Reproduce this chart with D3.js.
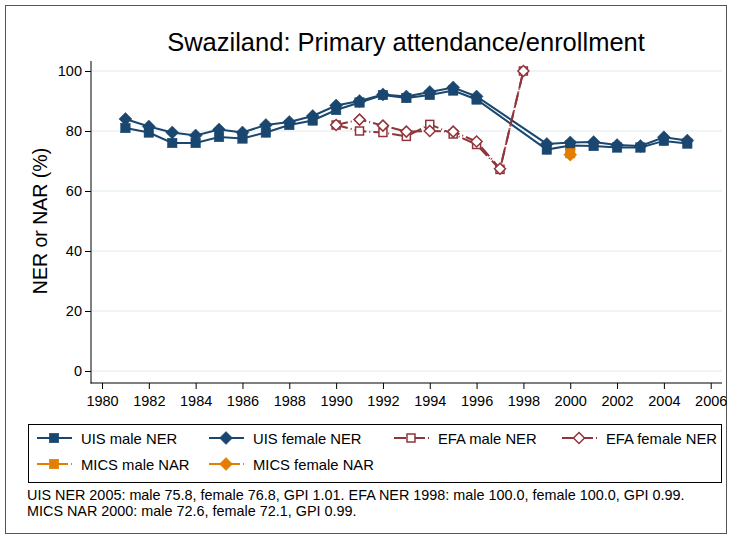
<!DOCTYPE html>
<html>
<head>
<meta charset="utf-8">
<script src="https://cdn.jsdelivr.net/npm/d3@7"></script>
<style>
  body { margin: 0; background: #fff; }
  text { font-family: "Liberation Sans", Arial, sans-serif; fill: #000; }
</style>
</head>
<body>
<script>
// data
const uisYears = [1981,1982,1983,1984,1985,1986,1987,1988,1989,1990,1991,1992,1993,1994,1995,1996,1999,2000,2001,2002,2003,2004,2005];
const uisMale = [81,79.5,76,76,78,77.5,79.5,82,83.5,87,89.5,92,91,92,93.5,90.5,73.8,75.2,75,74.5,74.5,76.7,75.8];
const uisFemale = [84,81.5,79.5,78.5,80.5,79.5,82,83,85,88.5,90,92.2,91.5,93,94.5,91.5,75.7,76.2,76.3,75.3,75,77.9,76.8];
const efaYears = [1990,1991,1992,1993,1994,1995,1996,1997,1998];
const efaMale = [82,80,79.5,78.2,82.2,79,75.5,67.2,100];
const efaFemale = [82,83.8,81.8,79.8,80,79.8,76.5,67.4,100];
const micsYears = [2000];
const micsMale = [72.6];
const micsFemale = [72.1];
const xTicks = d3.range(1980, 2007, 2);
const yTicks = [0,20,40,60,80,100];

const navy = "#1a476f", maroon = "#90353b", orange = "#e37e00";

const W = 731, H = 538;
const svg = d3.select("body").append("svg").attr("width", W).attr("height", H);

svg.append("rect").attr("x",5.5).attr("y",5.5).attr("width",721).attr("height",528)
    .attr("fill","none").attr("stroke","#555").attr("stroke-width",1);

const x = d3.scaleLinear().domain([1980, 2006]).range([102, 710.7]);
const y = d3.scaleLinear().domain([0, 100]).range([371, 71]);

// gridlines
svg.append("g").selectAll("line").data(yTicks).enter().append("line")
    .attr("x1", 92).attr("x2", 722)
    .attr("y1", d => y(d)).attr("y2", d => y(d))
    .attr("stroke", "#eaf2f3").attr("stroke-width", 1.5);

// axes
const yAxis = svg.append("g").attr("transform","translate(91,0)")
    .call(d3.axisLeft(y).tickValues(yTicks).tickSize(6).tickPadding(3).tickSizeOuter(0));
const xAxis = svg.append("g").attr("transform","translate(0,383)")
    .call(d3.axisBottom(x).tickValues(xTicks).tickFormat(d3.format("d")).tickSize(6).tickPadding(7).tickSizeOuter(0));
[yAxis, xAxis].forEach(g => {
    g.select(".domain").remove();
    g.selectAll("text").style("font-size","14.5px").attr("font-family","Liberation Sans, Arial, sans-serif");
    g.selectAll("line").attr("stroke","#000");
});
svg.append("line").attr("x1",91).attr("x2",91).attr("y1",61).attr("y2",383.5).attr("stroke","#000");
svg.append("line").attr("x1",90.5).attr("x2",722).attr("y1",383).attr("y2",383).attr("stroke","#000");

// title and axis label
svg.append("text").attr("x", 406).attr("y", 51).attr("text-anchor","middle")
    .style("font-size","25.5px").text("Swaziland: Primary attendance/enrollment");
svg.append("text").attr("transform","translate(47,221) rotate(-90)").attr("text-anchor","middle")
    .style("font-size","19.5px").text("NER or NAR (%)");

// markers
function marker(g, shape, cx, cy, color, hollow) {
    if (shape === "square") {
        const s = hollow ? 8 : 9.5;
        g.append("rect").attr("x", cx - s/2).attr("y", cy - s/2).attr("width", s).attr("height", s)
            .attr("fill", hollow ? "#fff" : color).attr("stroke", color).attr("stroke-width", hollow ? 1.5 : 0.5);
    } else {
        const r = hollow ? 5.5 : 6.5;
        g.append("path").attr("d", `M${cx},${cy-r}L${cx+r},${cy}L${cx},${cy+r}L${cx-r},${cy}Z`)
            .attr("fill", hollow ? "#fff" : color).attr("stroke", color).attr("stroke-width", hollow ? 1.5 : 0.5);
    }
}

const series = [
    {name:"UIS male NER", years:uisYears, vals:uisMale, color:navy, shape:"square", hollow:false, dash:null},
    {name:"UIS female NER", years:uisYears, vals:uisFemale, color:navy, shape:"diamond", hollow:false, dash:null},
    {name:"EFA male NER", years:efaYears, vals:efaMale, color:maroon, shape:"square", hollow:true, dash:"12,3,1,3"},
    {name:"EFA female NER", years:efaYears, vals:efaFemale, color:maroon, shape:"diamond", hollow:true, dash:"12,3,1,3"},
    {name:"MICS male NAR", years:micsYears, vals:micsMale, color:orange, shape:"square", hollow:false, dash:"12,3,1,3"},
    {name:"MICS female NAR", years:micsYears, vals:micsFemale, color:orange, shape:"diamond", hollow:false, dash:"12,3,1,3"}
];

const line = d3.line().x(d => x(d[0])).y(d => y(d[1]));
const plot = svg.append("g");
series.forEach(s => {
    const pts = s.years.map((yr, i) => [yr, s.vals[i]]);
    if (pts.length > 1) {
        plot.append("path").attr("d", line(pts)).attr("fill","none")
            .attr("stroke", s.color).attr("stroke-width", 2)
            .attr("stroke-dasharray", s.dash);
    }
});
series.forEach(s => {
    const g = plot.append("g");
    s.years.forEach((yr, i) => marker(g, s.shape, x(yr), y(s.vals[i]), s.color, s.hollow));
});

// legend
svg.append("rect").attr("x",28.5).attr("y",424.5).attr("width",693).attr("height",58)
    .attr("fill","none").attr("stroke","#000");
const legPos = [[37,438],[209,438],[394,438],[562,438],[37,464],[209,464]];
series.forEach((s, i) => {
    const [lx, ly] = legPos[i];
    const g = svg.append("g");
    g.append("line").attr("x1", lx).attr("x2", lx + 35).attr("y1", ly).attr("y2", ly)
        .attr("stroke", s.color).attr("stroke-width", 2).attr("stroke-dasharray", s.dash);
    marker(g, s.shape, lx + 17, ly, s.color, s.hollow);
    g.append("text").attr("x", lx + 44).attr("y", ly + 5.5).style("font-size","14.8px").text(s.name);
});

// note
const notes = [
    "UIS NER 2005: male 75.8, female 76.8, GPI 1.01. EFA NER 1998: male 100.0, female 100.0, GPI 0.99.",
    "MICS NAR 2000: male 72.6, female 72.1, GPI 0.99."
];
notes.forEach((t, i) => svg.append("text").attr("x", 27).attr("y", 500 + i * 15.5)
    .style("font-size","14.4px").text(t));
</script>
</body>
</html>
